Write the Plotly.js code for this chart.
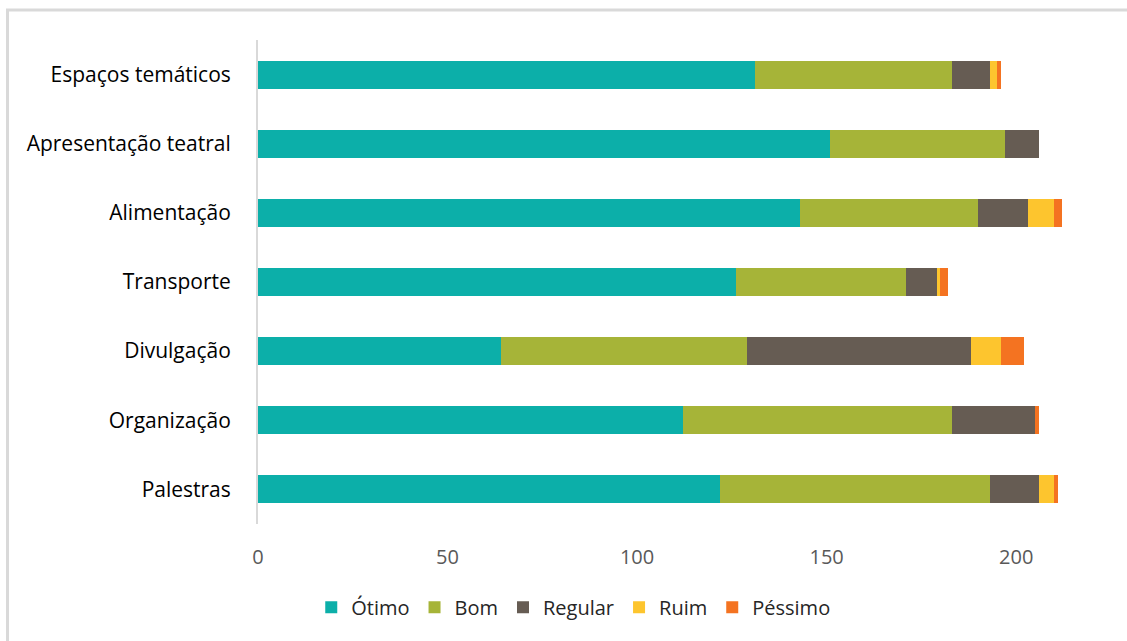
<!DOCTYPE html>
<html>
<head>
<meta charset="utf-8">
<script src="https://cdn.plot.ly/plotly-3.0.1.min.js"></script>
<style>
html,body{margin:0;padding:0;background:#fff;}
#chart{width:1127px;height:641px;}
</style>
</head>
<body>
<div id="chart"></div>
<script>
const categories = ["Espaços temáticos","Apresentação teatral","Alimentação","Transporte","Divulgação","Organização","Palestras"];
const otimo   = [131,151,143,126,64,112,122];
const bom     = [52,46,47,45,65,71,71];
const regular = [10,9,13,8,59,22,13];
const ruim    = [2,0,7,1,8,0,4];
const pessimo = [1,0,2,2,6,1,1];
const seriesNames = ["Ótimo","Bom","Regular","Ruim","Péssimo"];
const seriesColors = ["#0cafa9","#a6b438","#665c53","#fdc52e","#f47321"];
const seriesValues = [otimo,bom,regular,ruim,pessimo];
const xTicks = [0,50,100,150,200];

const traces = seriesValues.map((vals,i)=>({
  type:'bar', orientation:'h',
  name: seriesNames[i], x: vals, y: categories,
  marker:{color: seriesColors[i], line:{width:0}},
  hoverinfo:'x+y+name'
}));

const FONT = "'Open Sans', sans-serif";
const layout = {
  width:1127, height:641,
  margin:{l:258, r:35, t:40, b:117},
  barmode:'stack',
  bargap:0.595,
  paper_bgcolor:'#ffffff', plot_bgcolor:'#ffffff',
  font:{family:FONT, size:21, color:'#000'},
  showlegend:true,
  legend:{orientation:'h', x:0.378, xanchor:'center', y:-0.172, yanchor:'middle',
          font:{family:FONT, size:20, color:'#262626'}, traceorder:'normal',
          itemwidth:30},
  xaxis:{range:[0,220], tickvals:xTicks, ticktext:xTicks.map(String),
         showgrid:false, zeroline:false, showline:false, ticks:'',
         ticklabelstandoff:19,
         tickfont:{family:FONT, size:20, color:'#595959'}, fixedrange:true},
  yaxis:{type:'category', autorange:'reversed', showgrid:false, zeroline:false,
         showline:true, linecolor:'#d9d9d9', linewidth:2, ticks:'',
         ticklabelstandoff:21,
         tickfont:{family:FONT, size:21, color:'#000'}, fixedrange:true},
  shapes:[
    {type:'line', xref:'paper', yref:'paper', x0:(7.5-258)/834, x1:(7.5-258)/834,
     y0:(524-645)/484, y1:(524-10)/484, line:{color:'#d9d9d9', width:3}},
    {type:'line', xref:'paper', yref:'paper', x0:(6-258)/834, x1:(1130-258)/834,
     y0:(524-10)/484, y1:(524-10)/484, line:{color:'#d9d9d9', width:3}}
  ]
};
Plotly.newPlot('chart', traces, layout, {displayModeBar:false, staticPlot:true});
</script>
</body>
</html>
